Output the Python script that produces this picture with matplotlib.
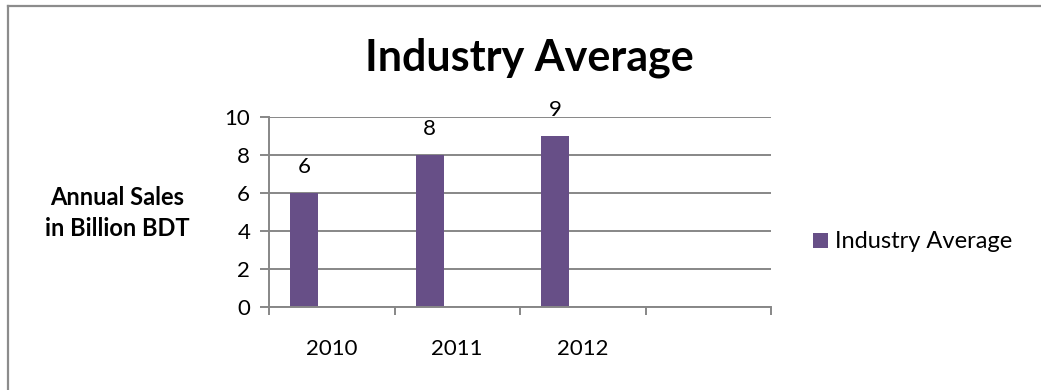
import matplotlib
matplotlib.use("Agg")
import matplotlib.pyplot as plt
from matplotlib.lines import Line2D
from matplotlib.patches import Rectangle

# Chart data
years = ["2010", "2011", "2012", ""]
values = [6, 8, 9]
series_name = "Industry Average"
y_ticks = [0, 2, 4, 6, 8, 10]

bar_color = "#674F87"
grid_color = "#878787"
font = "Lato"

W, H = 1041, 390
fig = plt.figure(figsize=(W / 100, H / 100), dpi=100)
fig.patch.set_facecolor("white")

# Outer chart frame (top and left edges visible)
fig.add_artist(Line2D([8 / W, 1.0], [1 - 5.5 / H, 1 - 5.5 / H], transform=fig.transFigure,
                      color="#8C8C8C", lw=1.6))
fig.add_artist(Line2D([8 / W, 8 / W], [0, 1 - 5.5 / H], transform=fig.transFigure,
                      color="#8C8C8C", lw=1.6))

left, right = 269 / W, 771 / W
bottom, top = 1 - 307 / H, 1 - 117 / H
ax = fig.add_axes([left, bottom, right - left, top - bottom])

n_cat = len(years)
ax.set_xlim(-0.5, n_cat - 0.5)
ax.set_ylim(0, 10)

# Bars sit left of the category centre, as in a clustered layout
offset = -0.221
width = 0.223
xs = [i + offset for i in range(len(values))]
ax.bar(xs, values, width=width, color=bar_color, zorder=3)

for x, v in zip(xs, values):
    ax.annotate(str(v), (x, v), xytext=(0, 19), textcoords="offset points",
                ha="center", va="center", fontsize=16, family=font, color="black")

# Grid and axes
ax.set_yticks(y_ticks)
ax.yaxis.grid(True, color=grid_color, lw=1.4, zorder=0)
for s in ["top", "right"]:
    ax.spines[s].set_visible(False)
for s in ["left", "bottom"]:
    ax.spines[s].set_color(grid_color)
    ax.spines[s].set_linewidth(1.4)
    ax.spines[s].set_zorder(4)

ax.tick_params(axis="y", direction="out", length=6.5, width=1.4, color=grid_color,
               pad=7, labelsize=16)
ax.set_xticks([i - 0.5 for i in range(n_cat + 1)])
ax.set_xticklabels([])
ax.set_xticks(range(n_cat), minor=True)
ax.set_xticklabels(years, minor=True)
ax.tick_params(axis="x", which="major", direction="out", length=6, width=1.4,
               color=grid_color)
ax.tick_params(axis="x", which="minor", length=0, pad=23, labelsize=16)
for lbl in ax.get_yticklabels() + ax.get_xticklabels(minor=True):
    lbl.set_family(font)

# Axis title
fig.text(117 / W, 1 - 213 / H, "Annual Sales\nin Billion BDT", ha="center", va="center",
         fontsize=17, fontweight="bold", family=font, linespacing=1.45)

# Chart title
fig.text(529 / W, 1 - 71 / H, series_name, ha="center", va="baseline",
         fontsize=31, fontweight="bold", family=font)

# Legend
fig.add_artist(Rectangle((813 / W, 1 - 248 / H), 15 / W, 15 / H, transform=fig.transFigure,
                         facecolor=bar_color, edgecolor="none"))
fig.text(835 / W, 1 - 241 / H, series_name, ha="left", va="center",
         fontsize=17, family=font)

fig.savefig("out.png", dpi=100, facecolor="white")
